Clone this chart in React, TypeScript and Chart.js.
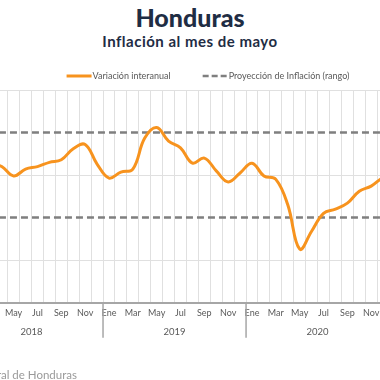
import React, { useEffect, useRef } from "react";
import { Chart, registerables } from "chart.js";

Chart.register(...registerables);

const MONTHS = ["Ene", "Feb", "Mar", "Abr", "May", "Jun", "Jul", "Ago", "Sep", "Oct", "Nov", "Dic"];
const YEARS = ["2018", "2019", "2020", "2021"];
const CATEGORIES = YEARS.flatMap((y) => MONTHS.map((m) => `${m} ${y}`)).slice(0, 37);

// Variación interanual (%), Ene 2018 .. Ene 2021
const INFLATION = [
  4.4, 4.4, 4.3, 4.2, 3.98, 4.14, 4.2, 4.3, 4.36, 4.62, 4.72, 4.26,
  3.93, 4.07, 4.14, 4.87, 5.12, 4.8, 4.64, 4.28, 4.4, 4.1, 3.84, 4.05,
  4.28, 3.98, 3.9, 3.3, 2.26, 2.68, 3.1, 3.2, 3.34, 3.62, 3.74, 3.95,
  4.1,
];
const RANGE_HIGH = 5;
const RANGE_LOW = 3;
const Y_TICKS = [2, 4, 6];
const Y_MIN = 1;
const Y_MAX = 6;

const LEGEND_LABELS = ["Variación interanual", "Proyección de Inflación (rango)"];

const ORANGE = "#f7931e";
const GRAY_DASH = "#7f7f7f";
const FONT = "Lato, 'Open Sans', sans-serif";

const CANVAS_LEFT = -60;
const CANVAS_W = 500;
const CANVAS_H = 380;

const yearPlugin = {
  id: "yearAxis",
  afterDraw(chart: any) {
    const ctx = chart.ctx;
    const xs = chart.scales.x;
    const bottom = chart.chartArea.bottom;
    ctx.save();
    ctx.strokeStyle = "#a6a6a6";
    ctx.lineWidth = 1.5;
    const n = CATEGORIES.length;
    for (let b = 12; b < n; b += 12) {
      const px = (xs.getPixelForValue(b - 1) + xs.getPixelForValue(b)) / 2;
      ctx.beginPath();
      ctx.moveTo(px, bottom);
      ctx.lineTo(px, bottom + 35);
      ctx.stroke();
    }
    ctx.fillStyle = "#595959";
    ctx.font = `9.5px ${FONT}`;
    ctx.textAlign = "center";
    ctx.textBaseline = "middle";
    YEARS.forEach((yr, k) => {
      const first = k * 12;
      if (first >= n) return;
      const last = Math.min(first + 11, n - 1);
      const cx = (xs.getPixelForValue(first) + xs.getPixelForValue(last)) / 2;
      ctx.fillText(yr, cx, bottom + 29);
    });
    ctx.restore();
  },
};

const legendPlugin = {
  id: "customLegend",
  afterDraw(chart: any) {
    const ctx = chart.ctx;
    const y = 76;
    const lineLen = 25;
    const gap = 1;
    const itemGap = 32;
    ctx.save();
    ctx.font = `9px ${FONT}`;
    ctx.textBaseline = "middle";
    ctx.textAlign = "left";
    const widths = LEGEND_LABELS.map((t) => ctx.measureText(t).width);
    const total = widths.reduce((a, w) => a + lineLen + gap + w, 0) + itemGap;
    const centerPage = 208;
    let x = centerPage - CANVAS_LEFT - total / 2;
    const styles = [
      { color: ORANGE, width: 3, dash: [] as number[] },
      { color: GRAY_DASH, width: 2.5, dash: [6, 3] },
    ];
    LEGEND_LABELS.forEach((t, i) => {
      const s = styles[i];
      ctx.strokeStyle = s.color;
      ctx.lineWidth = s.width;
      ctx.setLineDash(s.dash);
      ctx.beginPath();
      ctx.moveTo(x, y);
      ctx.lineTo(x + lineLen, y);
      ctx.stroke();
      ctx.setLineDash([]);
      ctx.fillStyle = "#595959";
      ctx.fillText(t, x + lineLen + gap, y);
      x += lineLen + gap + widths[i] + itemGap;
    });
    ctx.restore();
  },
};

export default function App() {
  const ref = useRef<HTMLCanvasElement | null>(null);

  useEffect(() => {
    if (!ref.current) return;
    const chart = new Chart(ref.current, {
      type: "line",
      data: {
        labels: CATEGORIES,
        datasets: [
          {
            label: LEGEND_LABELS[0],
            data: INFLATION,
            borderColor: ORANGE,
            borderWidth: 3,
            tension: 0.4,
            pointRadius: 0,
            fill: false,
            order: 0,
          },
          {
            label: LEGEND_LABELS[1],
            data: CATEGORIES.map(() => RANGE_HIGH),
            borderColor: GRAY_DASH,
            borderWidth: 2.5,
            borderDash: [7, 4],
            pointRadius: 0,
            fill: false,
            order: 1,
          },
          {
            label: LEGEND_LABELS[1],
            data: CATEGORIES.map(() => RANGE_LOW),
            borderColor: GRAY_DASH,
            borderWidth: 2.5,
            borderDash: [7, 4],
            pointRadius: 0,
            fill: false,
            order: 1,
          },
        ],
      },
      options: {
        animation: false,
        responsive: false,
        maintainAspectRatio: false,
        layout: { padding: { left: 20, right: 39, top: 90, bottom: 56.5 } },
        plugins: {
          legend: { display: false },
          tooltip: { enabled: false },
        },
        scales: {
          x: {
            offset: true,
            grid: { offset: true, color: "#e0e0e0", lineWidth: 1, drawTicks: false },
            border: { color: "#a6a6a6", width: 2 },
            ticks: {
              autoSkip: false,
              maxRotation: 0,
              minRotation: 0,
              padding: 5,
              color: "#595959",
              font: { family: FONT, size: 9 },
              callback: (_v: any, i: number) => (i % 2 === 0 ? MONTHS[i % 12] : ""),
            },
          },
          y: {
            min: Y_MIN,
            max: Y_MAX,
            afterBuildTicks: (s: any) => {
              s.ticks = Y_TICKS.map((v) => ({ value: v }));
            },
            ticks: { display: false },
            grid: { color: "#e0e0e0", lineWidth: 1, drawTicks: false },
            border: { display: false },
          },
        },
      },
      plugins: [yearPlugin, legendPlugin],
    });
    return () => chart.destroy();
  }, []);

  return (
    <div
      style={{
        position: "absolute",
        left: 0,
        top: 0,
        width: 380,
        height: 380,
        overflow: "hidden",
        background: "#fff",
      }}
    >
      <div
        style={{
          position: "absolute",
          left: 0,
          top: 2,
          width: 380,
          textAlign: "center",
          fontFamily: FONT,
          fontWeight: 900,
          fontSize: 25,
          lineHeight: "30px",
          color: "#1f2d44",
        }}
      >
        Honduras
      </div>
      <div
        style={{
          position: "absolute",
          left: 0,
          top: 32,
          width: 380,
          textAlign: "center",
          fontFamily: FONT,
          fontWeight: 700,
          fontSize: 15,
          letterSpacing: "0.5px",
          lineHeight: "18px",
          color: "#1f2d44",
        }}
      >
        Inflación al mes de mayo
      </div>
      <canvas
        ref={ref}
        width={CANVAS_W}
        height={CANVAS_H}
        style={{ position: "absolute", left: CANVAS_LEFT, top: 0, width: CANVAS_W, height: CANVAS_H }}
      />
      <div
        style={{
          position: "absolute",
          right: 303,
          top: 368,
          whiteSpace: "nowrap",
          fontFamily: FONT,
          fontSize: 11.5,
          lineHeight: "14px",
          color: "#9a9a9a",
        }}
      >
        Fuente: Banco Central de Honduras
      </div>
    </div>
  );
}
